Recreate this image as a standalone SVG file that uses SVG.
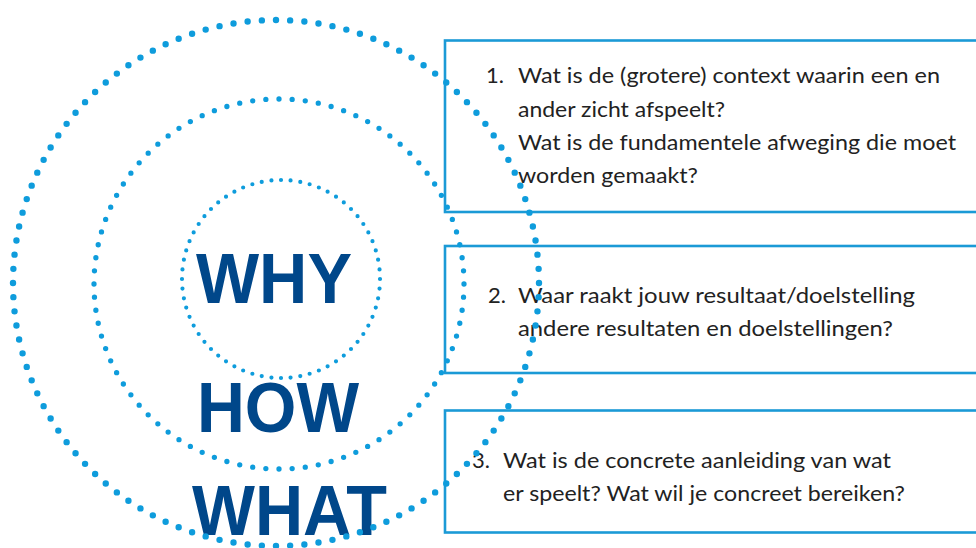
<svg xmlns="http://www.w3.org/2000/svg" width="976" height="548" viewBox="0 0 976 548">
<style>
.box{fill:none;stroke:#1B9AD6;stroke-width:2.6}
.dot{fill:none;stroke:#0E9CDC;stroke-linecap:round;stroke-dasharray:0 1}
.big{font-family:"Liberation Sans",Arial,sans-serif;font-weight:bold;font-size:70px;fill:#00478A}
.t{font-family:Lato,"Open Sans",sans-serif;font-size:22px;fill:#222222}
</style>
<rect width="976" height="548" fill="#ffffff"/>
<g id="box1">
<rect class="box" x="445" y="40.5" width="540" height="171.5"/>
<text class="t" x="486" y="83">1.</text>
<text class="t" x="518" y="83" textLength="422" lengthAdjust="spacingAndGlyphs">Wat is de (grotere) context waarin een en</text>
<text class="t" x="518" y="116.5" textLength="207" lengthAdjust="spacingAndGlyphs">ander zicht afspeelt?</text>
<text class="t" x="518" y="150" textLength="438" lengthAdjust="spacingAndGlyphs">Wat is de fundamentele afweging die moet</text>
<text class="t" x="518" y="183" textLength="180" lengthAdjust="spacingAndGlyphs">worden gemaakt?</text>
</g>
<g id="box2">
<rect class="box" x="445" y="246" width="540" height="127"/>
<text class="t" x="488" y="303">2.</text>
<text class="t" x="518" y="303" textLength="397" lengthAdjust="spacingAndGlyphs">Waar raakt jouw resultaat/doelstelling</text>
<text class="t" x="518" y="336" textLength="375" lengthAdjust="spacingAndGlyphs">andere resultaten en doelstellingen?</text>
</g>
<g id="box3">
<rect class="box" x="445" y="410.5" width="540" height="122"/>
<text class="t" x="472" y="468">3.</text>
<text class="t" x="503" y="468" textLength="388" lengthAdjust="spacingAndGlyphs">Wat is de concrete aanleiding van wat</text>
<text class="t" x="503" y="501" textLength="402" lengthAdjust="spacingAndGlyphs">er speelt? Wat wil je concreet bereiken?</text>
</g>
<g id="labels">
<text class="big" x="196" y="303" textLength="156" lengthAdjust="spacingAndGlyphs">WHY</text>
<text class="big" x="197" y="432" textLength="162" lengthAdjust="spacingAndGlyphs">HOW</text>
<text class="big" x="192" y="535" textLength="195" lengthAdjust="spacingAndGlyphs">WHAT</text>
</g>
<g id="circles">
<circle id="outer" class="dot" cx="276" cy="283" r="263" pathLength="116" stroke-width="6.4"/>
<circle id="middle" class="dot" cx="279" cy="284" r="185" pathLength="88" stroke-width="5.3"/>
<circle id="inner" class="dot" cx="281" cy="279" r="99" pathLength="64" stroke-width="4.2"/>
</g>
</svg>
